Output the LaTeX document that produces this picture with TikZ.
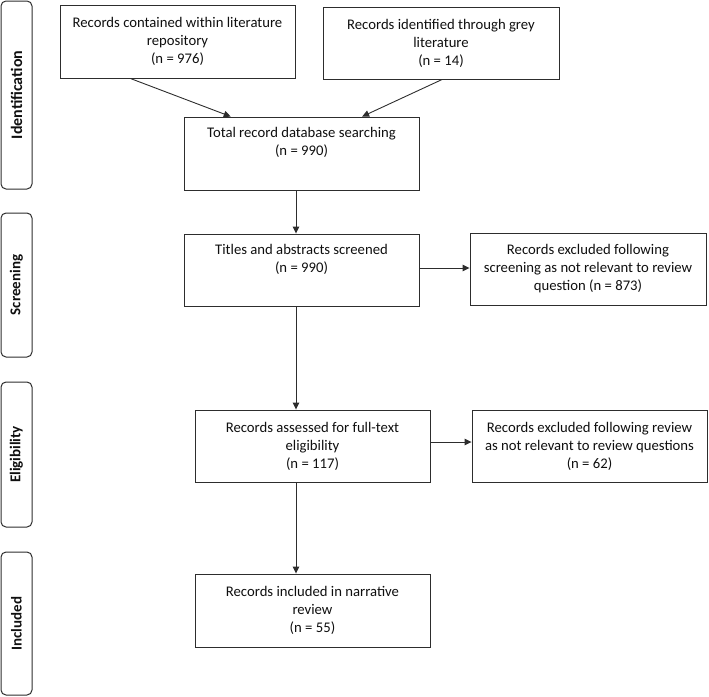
\documentclass[tikz,border=0pt]{standalone}
\usepackage{fontspec}
\setmainfont{Carlito}
\usetikzlibrary{arrows.meta,calc}
\definecolor{linec}{RGB}{45,45,45}
\definecolor{txtc}{RGB}{15,15,15}
\begin{document}
\begin{tikzpicture}[x=1pt,y=-1pt,
  box/.style={draw=linec, line width=0.9pt, inner sep=0pt, minimum width=235pt, minimum height=72pt,
    align=center, text=txtc, font=\fontsize{14.7}{18}\selectfont},
  phase/.style={draw=linec, line width=1pt, rounded corners=5pt, inner sep=0pt, rotate=90,
    minimum height=31pt, text=txtc, font=\bfseries\fontsize{15}{17}\selectfont},
  arr/.style={draw=linec, line width=0.9pt, -{Triangle[length=7pt,width=6.5pt]}}]
\useasboundingbox (0,0) rectangle (709,696);

% phase labels
\node[phase, minimum width=188pt, font=\bfseries\fontsize{16}{18}\selectfont] (p1) at (16.5,95) {Identification};
\node[phase, minimum width=144pt] (p2) at (16.5,285) {Screening};
\node[phase, minimum width=145pt] (p3) at (16.5,454.5) {Eligibility};
\node[phase, minimum width=143pt] (p4) at (16.5,623.5) {Included};

% boxes
\node[box, minimum height=73pt] (a) at (177.5,41.5) {Records contained within literature\\repository\\(n = 976)};
\node[box, minimum width=236pt] (b) at (441,43) {Records identified through grey\\literature\\(n = 14)};
\node[box, minimum height=73pt] (c) at (301.5,153.5) {Total record database searching\\(n = 990)\\\strut};
\node[box] (d) at (301.5,270) {Titles and abstracts screened\\(n = 990)\\\strut};
\node[box, minimum width=236pt] (e) at (588,269) {Records excluded following\\screening as not relevant to review\\question (n = 873)};
\node[box] (f) at (312.5,446) {Records assessed for full-text\\eligibility\\(n = 117)};
\node[box] (g) at (589.5,446) {Records excluded following review\\as not relevant to review questions\\(n = 62)};
\node[box, minimum height=73pt] (h) at (312.5,610.5) {Records included in narrative\\review\\(n = 55)};

% connectors
\draw[arr] ($(a.south west)!0.3!(a.south east)$) -- ($(c.north west)!0.2!(c.north east)$);
\draw[arr] ($(b.south west)!0.505!(b.south east)$) -- ($(c.north west)!0.757!(c.north east)$);
\draw[arr] ([xshift=-5.5pt]c.south) -- ([xshift=-5.5pt]d.north);
\draw[arr] ([yshift=2pt]d.east) -- ([yshift=2pt]d.east -| e.west);
\draw[arr] ([xshift=-5.5pt]d.south) -- ([xshift=-5.5pt]d.south |- f.north);
\draw[arr] ([yshift=4pt]f.east) -- ([yshift=4pt]f.east -| g.west);
\draw[arr] ([xshift=-16.5pt]f.south) -- ([xshift=-16.5pt]h.north);
\end{tikzpicture}
\end{document}
